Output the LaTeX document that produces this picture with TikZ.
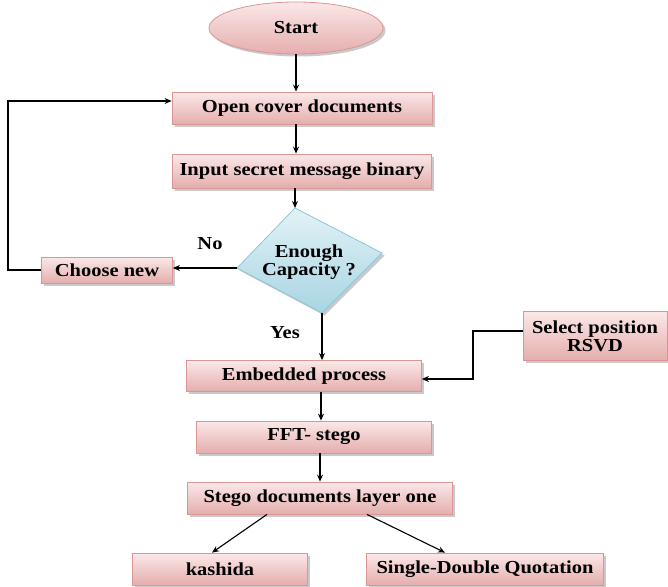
\documentclass[tikz,border=0pt]{standalone}
\usepackage{fontspec}
\setmainfont{Liberation Serif}[FakeStretch=1.12]
\usetikzlibrary{arrows.meta,shadows,shapes.geometric}
\definecolor{pinkA}{HTML}{FBE8E8}
\definecolor{pinkB}{HTML}{E4AEAD}
\definecolor{pinkD}{HTML}{D99694}
\definecolor{blueA}{HTML}{E2F2F7}
\definecolor{blueB}{HTML}{A8D5E2}
\definecolor{blueD}{HTML}{8CC6D7}
\tikzset{
  shd/.style={drop shadow={shadow xshift=2.5pt,shadow yshift=-2.5pt,opacity=0.35,fill=black!60}},
  pbox/.style={draw=pinkD,line width=0.8pt,top color=pinkA,bottom color=pinkB,shd,
    minimum width=#1,inner sep=0pt,align=center,font=\fontsize{18.3}{18}\selectfont\bfseries},
  arr/.style={-{Stealth[length=7pt,width=6pt]},line width=1.1pt,black},
  lbl/.style={font=\fontsize{18.3}{18}\selectfont\bfseries,inner sep=0pt}
}
\begin{document}
\begin{tikzpicture}[x=1pt,y=-1pt]
\useasboundingbox (0,0) rectangle (668,586);
% start
\node[ellipse,draw=pinkD,line width=0.8pt,top color=pinkA,bottom color=pinkB,shd,
  minimum width=174pt,minimum height=52pt,inner sep=0pt,
  font=\fontsize{18.3}{18}\selectfont\bfseries] (start) at (296,28) {Start};
\node[pbox=260pt,minimum height=32pt] (open) at (302,108) {Open cover documents};
\node[pbox=259pt,minimum height=34pt] (input) at (302,171) {Input secret message binary};
% diamond
\coordinate (dtop) at (295,208);
\coordinate (dright) at (382,253);
\coordinate (dbot) at (322,313);
\coordinate (dleft) at (237,268);
\path[draw=blueD,line width=0.8pt,top color=blueA,bottom color=blueB,shd]
  (dtop) -- (dright) -- (dbot) -- (dleft) -- cycle;
\node[lbl,align=center] (dtext) at (309,262) {Enough\\Capacity ?};
\node[pbox=131pt,minimum height=26pt] (choose) at (107,270) {Choose new};
\node[pbox=235pt,minimum height=31pt] (embed) at (304,376) {Embedded process};
\node[pbox=144pt,minimum height=49pt] (select) at (595,336) {Select position\\RSVD};
\node[pbox=235pt,minimum height=32pt] (fft) at (314,437) {FFT- stego};
\node[pbox=265pt,minimum height=32pt] (stego) at (320,498) {Stego documents layer one};
\node[pbox=175pt,minimum height=32pt] (kash) at (220,569) {kashida};
\node[pbox=237pt,minimum height=32pt] (sdq) at (485,569) {Single-Double Quotation};
% labels
\node[lbl] (no) at (210,244) {No};
\node[lbl] (yes) at (285,333) {Yes};
% connectors
\draw[arr] (start.south) -- (open.north -| start.south);
\draw[arr] (open.south -| start.south) -- (input.north -| start.south);
\draw[arr] (input.south -| dtop) -- (dtop);
\draw[arr] (dleft) -- (choose.east |- dleft);
\coordinate (loopx) at (8,0);
\draw[arr] (choose.west) -- (choose.west -| loopx) |- ([yshift=7pt]open.west);
\draw[arr] (dbot) -- (embed.north -| dbot);
\coordinate (selx) at (473,0);
\draw[arr] ([yshift=5pt]select.west) -| ([yshift=-3pt]embed.east -| selx) -- ([yshift=-3pt]embed.east);
\draw[arr] ([xshift=17pt]embed.south) -- ([xshift=7pt]fft.north);
\draw[arr] ([xshift=6pt]fft.south) -- (stego.north);
\draw[arr] ([xshift=-53pt]stego.south) -- ([xshift=-8pt]kash.north);
\draw[arr] ([xshift=47pt]stego.south) -- ([xshift=-40pt]sdq.north);
\end{tikzpicture}
\end{document}
